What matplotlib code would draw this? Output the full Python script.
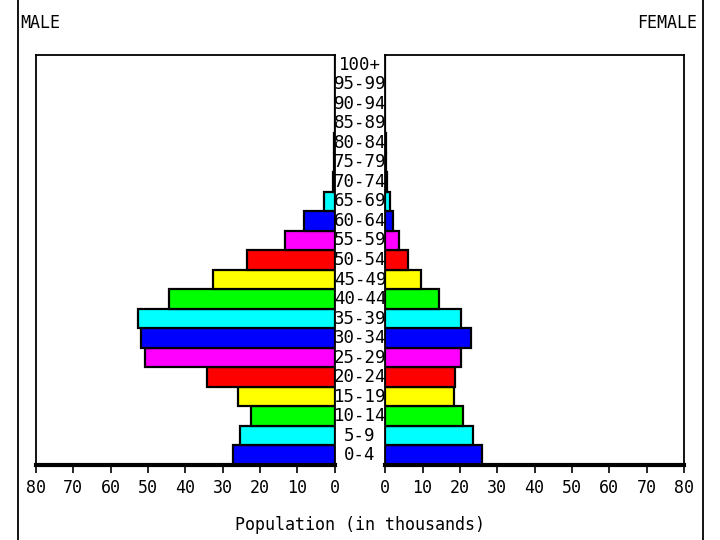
import matplotlib
matplotlib.use('Agg')
import matplotlib.pyplot as plt
from matplotlib.lines import Line2D

# age groups, bottom to top
ages = ['0-4', '5-9', '10-14', '15-19', '20-24', '25-29', '30-34', '35-39',
        '40-44', '45-49', '50-54', '55-59', '60-64', '65-69', '70-74',
        '75-79', '80-84', '85-89', '90-94', '95-99', '100+']
# population in thousands
male = [27.3, 25.4, 22.5, 25.9, 34.1, 50.7, 51.9, 52.8, 44.4, 32.7, 23.5,
        13.2, 8.2, 2.9, 0.5, 0.2, 0.1, 0.0, 0.0, 0.0, 0.0]
female = [25.8, 23.6, 20.9, 18.4, 18.8, 20.2, 22.9, 20.2, 14.4, 9.6, 6.2,
          3.7, 2.2, 1.3, 0.6, 0.2, 0.1, 0.0, 0.0, 0.0, 0.0]
ticks = [0, 10, 20, 30, 40, 50, 60, 70, 80]
cycle = ['#0000ff', '#00ffff', '#00ff00', '#ffff00', '#ff0000', '#ff00ff']
colors = [cycle[i % 6] for i in range(len(ages))]

font = 'DejaVu Sans Mono'
fig = plt.figure(figsize=(7.2, 5.4), dpi=100)
axl = fig.add_axes([0.05, 0.139, 0.415, 0.759])
axr = fig.add_axes([0.535, 0.139, 0.415, 0.759])
y = list(range(len(ages)))

axl.barh(y, male, height=1.0, color=colors, edgecolor='black', linewidth=1.6)
axr.barh(y, female, height=1.0, color=colors, edgecolor='black', linewidth=1.6)

axl.set_xlim(80, 0)
axr.set_xlim(0, 80)
for ax in (axl, axr):
    ax.set_ylim(-0.5, len(ages) - 0.5)
    ax.set_yticks([])
    ax.set_xticks(ticks)
    ax.set_xticklabels([str(t) for t in ticks], fontfamily=font, fontsize=12)
    ax.tick_params(axis='x', direction='out', length=6, width=1.2, pad=4)
    for s in ax.spines.values():
        s.set_linewidth(1.3)
    ax.spines['bottom'].set_linewidth(3)

# age labels in the gap between the two panels
for i, a in enumerate(ages):
    fig.text(0.5, axl.get_position().y0 + (i + 0.5) / len(ages) * 0.759, a,
             ha='center', va='center', fontfamily=font, fontsize=12.5)

fig.text(0.028, 0.958, 'MALE', ha='left', va='center', fontfamily=font, fontsize=12)
fig.text(0.968, 0.958, 'FEMALE', ha='right', va='center', fontfamily=font, fontsize=12)
fig.text(0.5, 0.028, 'Population (in thousands)', ha='center', va='center',
         fontfamily=font, fontsize=12)

fig.add_artist(Line2D([0.025, 0.025], [0, 1], color='black', linewidth=1.3))
fig.add_artist(Line2D([0.976, 0.976], [0, 1], color='black', linewidth=1.3))

fig.savefig('out.png', dpi=100, facecolor='white')
